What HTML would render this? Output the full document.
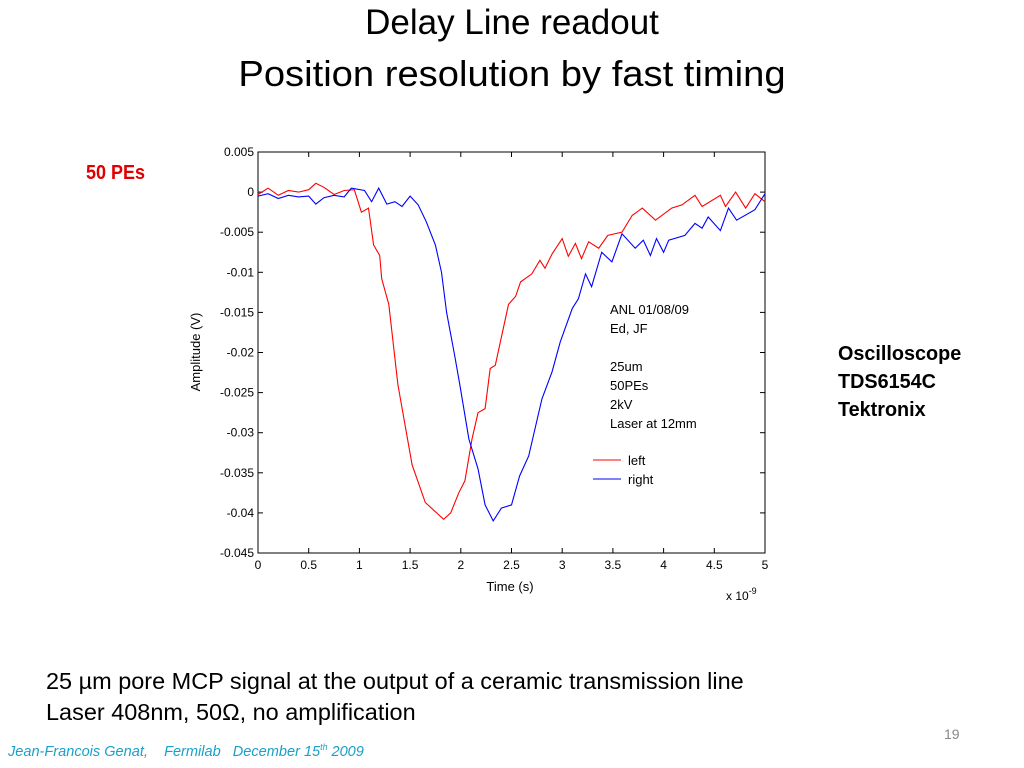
<!DOCTYPE html>
<html><head><meta charset="utf-8"><style>
body{margin:0;width:1024px;height:768px;background:#fff;overflow:hidden;position:relative;font-family:"Liberation Sans",sans-serif}
.t{position:absolute;white-space:nowrap}
</style></head><body>
<div class="t" style="left:0;width:1024px;text-align:center;top:3px;font-size:35px;color:#000">Delay Line readout</div>
<div class="t" style="left:0;width:1024px;text-align:center;top:53px;font-size:36px;color:#000;transform:scaleX(1.06)">Position resolution by fast timing</div>
<div class="t" style="left:86px;top:162px;font-size:20px;font-weight:bold;color:#e00000;transform:scaleX(0.9);transform-origin:left">50 PEs</div>
<div class="t" style="left:838px;top:340px;font-size:20px;font-weight:bold;line-height:28px;transform:scaleX(0.99);transform-origin:left">Oscilloscope<br>TDS6154C<br>Tektronix</div>
<div class="t" style="left:46px;top:666px;font-size:23px;line-height:31px;transform:scaleX(1.02);transform-origin:left">25 µm pore MCP signal at the output of a ceramic transmission line<br>Laser 408nm, 50Ω, no amplification</div>
<div class="t" style="left:944px;top:726px;font-size:14px;color:#888">19</div>
<div class="t" style="left:8px;top:742px;font-size:15px;font-style:italic;color:#1aa0c8;transform:scaleX(0.97);transform-origin:left">Jean-Francois Genat, &nbsp;&nbsp; Fermilab &nbsp; December 15<sup style="font-size:9px">th</sup> 2009</div>
<svg id="chart" width="1024" height="768" style="position:absolute;left:0;top:0" font-family="Liberation Sans, sans-serif"></svg>
<script>
const tLeft=[0,0.1,0.2,0.3,0.4,0.5,0.57,0.65,0.75,0.85,0.95,1.02,1.09,1.14,1.2,1.22,1.29,1.38,1.52,1.65,1.83,1.9,1.98,2.04,2.11,2.17,2.24,2.29,2.34,2.47,2.54,2.59,2.7,2.78,2.83,2.9,3.0,3.06,3.13,3.19,3.26,3.36,3.45,3.59,3.69,3.79,3.92,4.08,4.18,4.31,4.38,4.56,4.61,4.71,4.81,4.9,5.0];
const vLeft=[-0.3,0.5,-0.4,0.2,0,0.3,1.1,0.6,-0.3,0.2,0.3,-2.5,-2,-6.6,-7.9,-10.8,-14,-24,-34,-38.7,-40.8,-40,-37.5,-36,-30.8,-27.5,-27,-22,-21.6,-14,-13,-11.2,-10.2,-8.5,-9.5,-7.7,-5.8,-8,-6.4,-8.3,-6.2,-7,-5.4,-5,-2.9,-2,-3.5,-2,-1.6,-0.4,-1.8,-0.4,-1.8,0,-2,-0.2,-1.2];
const tRight=[0,0.1,0.2,0.3,0.4,0.5,0.57,0.65,0.75,0.85,0.92,1.05,1.12,1.19,1.27,1.35,1.42,1.5,1.58,1.66,1.75,1.81,1.86,1.94,1.99,2.08,2.17,2.24,2.32,2.4,2.5,2.58,2.67,2.8,2.9,2.98,3.1,3.16,3.23,3.29,3.39,3.49,3.59,3.72,3.8,3.87,3.93,4.0,4.05,4.21,4.31,4.38,4.44,4.56,4.64,4.72,4.9,5.0];
const vRight=[-0.5,-0.2,-0.8,-0.4,-0.6,-0.5,-1.5,-0.7,-0.4,-0.6,0.5,0.2,-1.2,0.5,-1.5,-1.2,-1.8,-0.5,-1.6,-3.7,-6.6,-10,-15,-20.4,-24,-30.8,-34.5,-39,-41,-39.4,-39,-35.4,-32.9,-25.8,-22.4,-18.7,-14.5,-13.3,-10.2,-11.8,-7.5,-8.7,-5.2,-7,-6,-7.9,-5.8,-7.5,-6,-5.4,-3.9,-4.5,-3.1,-4.8,-2,-3.5,-2.2,-0.2];
const xTicks=[0,0.5,1,1.5,2,2.5,3,3.5,4,4.5,5];
const yTicks=[0.005,0,-0.005,-0.01,-0.015,-0.02,-0.025,-0.03,-0.035,-0.04,-0.045];
const yTickLabels=["0.005","0","-0.005","-0.01","-0.015","-0.02","-0.025","-0.03","-0.035","-0.04","-0.045"];
const X0=258,X1=765,Y0=152,Y1=553;
const sx=t=>X0+(t-0)/5*(X1-X0);
const sy=v=>Y0+(0.005-v)/0.05*(Y1-Y0);
const svg=document.getElementById('chart');
const NS='http://www.w3.org/2000/svg';
function mk(tag,attrs,parent){const e=document.createElementNS(NS,tag);for(const k in attrs)e.setAttribute(k,attrs[k]);(parent||svg).appendChild(e);return e;}
const frame=mk('rect',{x:X0,y:Y0,width:X1-X0,height:Y1-Y0,fill:'#fff',stroke:'#000','stroke-width':1});


xTicks.forEach(t=>{
 const x=sx(t);
 mk('line',{x1:x,x2:x,y1:Y1,y2:Y1-5,stroke:'#000'});
 mk('line',{x1:x,x2:x,y1:Y0,y2:Y0+5,stroke:'#000'});
 const l=mk('text',{x:x,y:Y1+16,'font-size':12,'text-anchor':'middle'});l.textContent=String(t);
 
 
});
yTicks.forEach((v,i)=>{
 const y=sy(v);
 mk('line',{x1:X0,x2:X0+5,y1:y,y2:y,stroke:'#000'});
 mk('line',{x1:X1,x2:X1-5,y1:y,y2:y,stroke:'#000'});
 const l=mk('text',{x:X0-4,y:y+4,'font-size':12,'text-anchor':'end'});l.textContent=yTickLabels[i];
 
 
});
function line(ts,vs,color,name){
 const p=mk('polyline',{points:ts.map((t,i)=>sx(t).toFixed(1)+','+sy(vs[i]/1000).toFixed(1)).join(' '),fill:'none',stroke:color,'stroke-width':1.1});
 
 
}
line(tLeft,vLeft,'#ff0000','series-left');
line(tRight,vRight,'#0000ff','series-right');
const xt=mk('text',{x:510,y:591,'font-size':13,'text-anchor':'middle'});xt.textContent='Time (s)';


const ex=mk('text',{x:726,y:600,'font-size':12});ex.innerHTML='x 10<tspan dy="-6" font-size="9">-9</tspan>';


const yt=mk('text',{x:0,y:0,'font-size':13,'text-anchor':'middle',transform:'translate(200,352) rotate(-90)'});yt.textContent='Amplitude (V)';


const notes=['ANL 01/08/09','Ed, JF','','25um','50PEs','2kV','Laser at 12mm'];
const ny=[314,333,0,371,390,409,428];
notes.forEach((s,i)=>{if(!s)return;const n=mk('text',{x:610,y:ny[i],'font-size':13});n.textContent=s;
 
 });
[['left','#ff0000',460],['right','#0000ff',479]].forEach(([s,c,y])=>{
 mk('line',{x1:593,x2:621,y1:y,y2:y,stroke:c});
 const e=mk('text',{x:628,y:y+5,'font-size':13});e.textContent=s;
 
 
});
</script>
</body></html>
